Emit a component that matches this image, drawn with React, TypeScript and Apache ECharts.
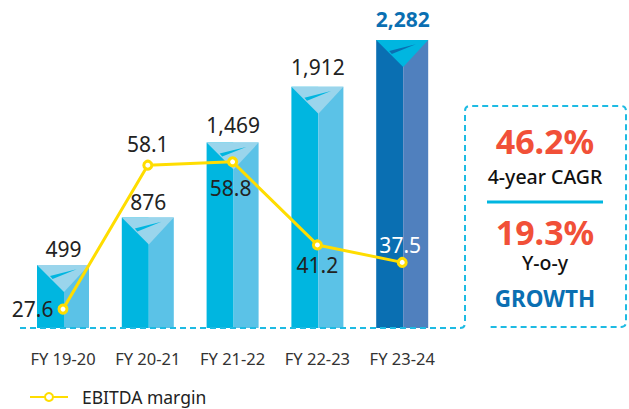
import React, { useEffect, useRef } from "react";
import * as echarts from "echarts";

const categories = ["FY 19-20", "FY 20-21", "FY 21-22", "FY 22-23", "FY 23-24"];
const revenue = [499, 876, 1469, 1912, 2282];
const margin = [27.6, 58.1, 58.8, 41.2, 37.5];
const revenueLabels = ["499", "876", "1,469", "1,912", "2,282"];
const FONT = "'Noto Sans', 'Open Sans', sans-serif";
const labelGaps = [16, 15, 18, 20, 21];

echarts.graphic.registerShape(
  "frameLine",
  echarts.graphic.extendPath(
    "M20 328 H460 Q465 328 465 323 V111 Q465 106 470 106 H621 Q626 106 626 111 V322 Q626 327 621 327 H487",
    {}
  )
);

export default function App() {
  const ref = useRef<HTMLDivElement>(null);
  useEffect(() => {
    const chart = echarts.init(ref.current!, null, { renderer: "svg" });
    const renderBar = (params: any, api: any) => {
      const i = params.dataIndex;
      const top = api.coord([i, api.value(1)]);
      const base = api.coord([i, 0]);
      const w = 52;
      const l = top[0] - w / 2;
      const r = l + w;
      const split = l + 27;
      const y = top[1];
      const last = i === revenue.length - 1;
      const left = last ? "#0A6FB2" : "#00B6E0";
      const right = last ? "#5080BE" : "#5BC2E7";
      const wing = last ? "#00B6E0" : "#9AD5EC";
      const slit = last ? "#0A6FB2" : "#00B6E0";
      const poly = (pts: number[][], fill: string) => ({
        type: "polygon",
        shape: { points: pts },
        style: { fill },
      });
      return {
        type: "group",
        children: [
          poly([[l, y], [split, y], [split, base[1]], [l, base[1]]], left),
          poly([[split, y], [r, y], [r, base[1]], [split, base[1]]], right),
          poly([[l, y], [r, y], [split, y + 27]], wing),
          poly([[l + 13, y + 11], [l + 39.6, y + 4.3], [l + 15.6, y + 14]], slit),
          {
            type: "text",
            style: {
              text: revenueLabels[i],
              x: top[0] + 0.5,
              y: y - labelGaps[i],
              align: "center",
              verticalAlign: "middle",
              fontFamily: FONT,
              fontSize: 21,
              fontWeight: last ? 700 : 400,
              fill: last ? "#0A6FB2" : "#222222",
            },
          },
        ],
      };
    };
    const labelPos: any[] = [
      { position: "left", distance: 4, color: "#222222" },
      { position: "top", distance: 5, color: "#222222" },
      { position: "bottom", distance: 10, color: "#222222", offset: [-2, 0] },
      { position: "bottom", distance: 4, color: "#222222" },
      { position: "top", distance: 1, color: "#FFFFFF", offset: [-2, 0] },
    ];
    chart.setOption({
      animation: false,
      grid: { left: 20.6, right: 184.4, top: 12.5, bottom: 81 },
      xAxis: {
        type: "category",
        data: categories,
        axisLine: { show: false },
        axisTick: { show: false },
        axisLabel: { fontFamily: FONT, fontSize: 16.5, color: "#333333", margin: 22, interval: 0 },
      },
      yAxis: [
        { type: "value", min: 0, max: 2500, show: false },
        { type: "value", min: 23.6, max: 90.44, show: false },
      ],
      legend: {
        show: true,
        left: 24,
        top: 383,
        itemWidth: 38,
        itemHeight: 10,
        itemGap: 0,
        data: [{ name: "EBITDA margin" }],
        textStyle: { fontFamily: FONT, fontSize: 17.5, color: "#222222", padding: [0, 0, 0, 9] },
      },
      series: [
        {
          type: "custom",
          name: "Revenue",
          renderItem: renderBar,
          data: revenue.map((v, i) => [i, v]),
          encode: { x: 0, y: 1 },
          yAxisIndex: 0,
          z: 1,
        },
        {
          type: "line",
          name: "EBITDA margin",
          yAxisIndex: 1,
          data: margin.map((v, i) => ({
            value: v,
            label: {
              show: true,
              fontFamily: FONT,
              fontSize: 21,
              ...labelPos[i],
            },
          })),
          symbol: "circle",
          symbolSize: 8,
          lineStyle: { color: "#FFDD00", width: 3 },
          itemStyle: { color: "#FFFFFF", borderColor: "#FFDD00", borderWidth: 3 },
          z: 3,
        },
      ],
      graphic: [
        {
          type: "frameLine",
          x: 0,
          y: 0,
          z: 5,
          style: { fill: "none", stroke: "#1EBBE3", lineWidth: 2, lineDash: [6, 4] },
        },
        { type: "text", x: 545, y: 141, z: 6, style: { text: "46.2%", align: "center", verticalAlign: "middle", fontFamily: FONT, fontSize: 34, fontWeight: 700, fill: "#F15038" } },
        { type: "text", x: 545, y: 176, z: 6, style: { text: "4-year CAGR", align: "center", verticalAlign: "middle", fontFamily: FONT, fontSize: 19.5, fontWeight: 500, fill: "#111111" } },
        { type: "line", z: 6, shape: { x1: 487, y1: 202, x2: 603, y2: 202 }, style: { stroke: "#00B6E0", lineWidth: 3 } },
        { type: "text", x: 545, y: 232, z: 6, style: { text: "19.3%", align: "center", verticalAlign: "middle", fontFamily: FONT, fontSize: 34, fontWeight: 700, fill: "#F15038" } },
        { type: "text", x: 545, y: 262, z: 6, style: { text: "Y-o-y", align: "center", verticalAlign: "middle", fontFamily: FONT, fontSize: 19.5, fontWeight: 500, fill: "#111111" } },
        { type: "text", x: 545, y: 298, z: 6, style: { text: "GROWTH", align: "center", verticalAlign: "middle", fontFamily: FONT, fontSize: 22.5, fontWeight: 700, fill: "#0A6FB2" } },
      ],
    });
    return () => chart.dispose();
  }, []);
  return (
    <div
      ref={ref}
      style={{ position: "absolute", left: 0, top: 0, width: 629, height: 409, background: "#fff" }}
    />
  );
}
